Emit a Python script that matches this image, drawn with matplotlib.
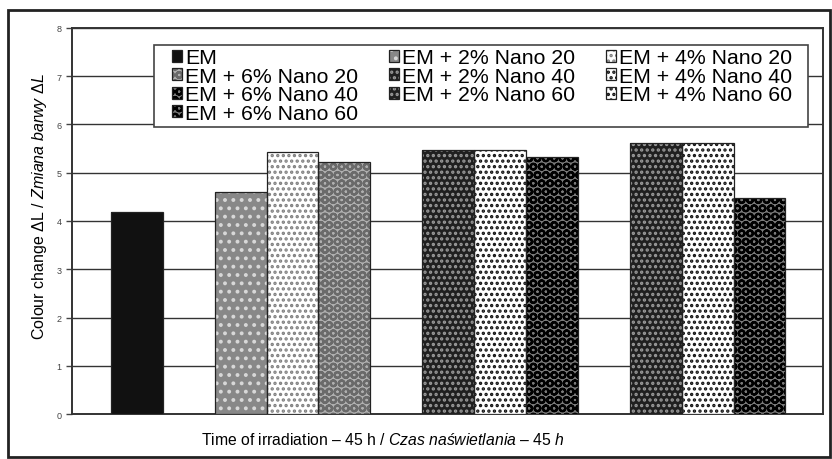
import numpy as np
import matplotlib.pyplot as plt
from matplotlib.patches import Rectangle

plt.rcParams['font.family'] = ['Liberation Sans', 'DejaVu Sans']
plt.rcParams['mathtext.fontset'] = 'custom'
plt.rcParams['mathtext.rm'] = 'Liberation Sans'
plt.rcParams['mathtext.it'] = 'Liberation Sans:italic'
plt.rcParams['hatch.linewidth'] = 1.6

# data
grupy = [
    ["EM"],
    ["EM + 2% Nano 20", "EM + 4% Nano 20", "EM + 6% Nano 20"],
    ["EM + 2% Nano 40", "EM + 4% Nano 40", "EM + 6% Nano 40"],
    ["EM + 2% Nano 60", "EM + 4% Nano 60", "EM + 6% Nano 60"],
]
valores = [
    [4.19],
    [4.60, 5.42, 5.22],
    [5.47, 5.47, 5.32],
    [5.62, 5.62, 4.48],
]

# style per bar: (facecolor, hatch, hatch colour)
estilos = {
    "EM": ("#111111", None, "#111111"),
    "EM + 2% Nano 20": ("#888888", "..", "#d8d8d8"),
    "EM + 4% Nano 20": ("#ffffff", "...", "#808080"),
    "EM + 6% Nano 20": ("#b0b0b0", "OO", "#6a6a6a"),
    "EM + 2% Nano 40": ("#202020", "...", "#9a9a9a"),
    "EM + 4% Nano 40": ("#ffffff", "...", "#111111"),
    "EM + 6% Nano 40": ("#7a7a7a", "OO", "#000000"),
    "EM + 2% Nano 60": ("#202020", "...", "#9a9a9a"),
    "EM + 4% Nano 60": ("#ffffff", "...", "#111111"),
    "EM + 6% Nano 60": ("#7a7a7a", "OO", "#000000"),
}

fig = plt.figure(figsize=(8.32, 4.6), dpi=100)
ax = fig.add_axes([0.0865, 0.0978, 0.9025, 0.8392])

handles = {}
x = 0
for nombres, vals in zip(grupy, valores):
    for nombre, v in zip(nombres, vals):
        fc, hatch, hc = estilos[nombre]
        b1 = ax.bar(x, v, width=1.0, color=fc, hatch=hatch, edgecolor=hc,
                    linewidth=0, zorder=3)
        b2 = ax.bar(x, v, width=1.0, fill=False, edgecolor="#222222",
                    linewidth=0.9, zorder=4)
        handles[nombre] = (b1[0], b2[0])
        x += 1
    x += 1

ax.set_xlim(-1.25, 13.22)
ax.set_ylim(0, 8)
ax.set_xticks([])
ax.set_yticks(np.arange(0, 9, 1))
ax.tick_params(axis="y", labelsize=6.5, labelcolor="#444444", color="#444444",
               length=4, width=1)
ax.yaxis.grid(True, color="#333333", linewidth=1.0, zorder=0)
ax.set_axisbelow(True)
for s in ax.spines.values():
    s.set_color("#333333")
    s.set_linewidth(1.4)

# legend box drawn apart, the legend itself without frame
caja = Rectangle((0.1092, 0.7435), 0.8708, 0.2125, transform=ax.transAxes,
                 facecolor="white", edgecolor="#444444", linewidth=1.2,
                 zorder=9)
ax.add_patch(caja)

# legend order so that ncol=3 reads row by row
orden = ["EM", "EM + 6% Nano 20", "EM + 6% Nano 40", "EM + 6% Nano 60",
         "EM + 2% Nano 20", "EM + 2% Nano 40", "EM + 2% Nano 60",
         "EM + 4% Nano 20", "EM + 4% Nano 40", "EM + 4% Nano 60"]
leg = ax.legend([handles[n] for n in orden], orden, ncol=3,
                loc="upper left", bbox_to_anchor=(0.133, 0.947),
                fontsize=15.3, frameon=False,
                handlelength=0.5, handleheight=0.5, handletextpad=0.12,
                columnspacing=1.45, labelspacing=-0.03, borderpad=0,
                borderaxespad=0)
leg.set_zorder(10)

fig.text(0.048, 0.55, r"Colour change ΔL / $\mathit{Zmiana\ barwy\ ΔL}$",
         rotation=90, ha="center", va="center", fontsize=11.5)
fig.text(0.46, 0.043,
         r"Time of irradiation – 45 h / $\mathit{Czas\ naświetlania\ –\ 45\ h}$",
         ha="center", va="center", fontsize=11.3)

fig.patches.append(Rectangle((8 / 832, 2 / 460), 822 / 832, 447 / 460,
                             transform=fig.transFigure, fill=False,
                             edgecolor="#222222", linewidth=2))

fig.savefig("out.png", dpi=100)
